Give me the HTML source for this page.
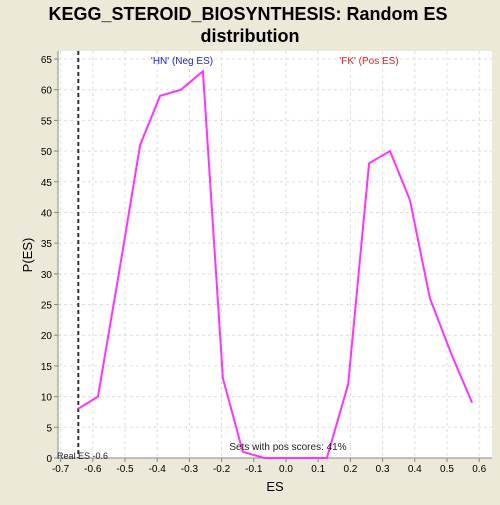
<!DOCTYPE html>
<html><head><meta charset="utf-8"><style>
body{margin:0;background:#ece9d8;font-family:"Liberation Sans",sans-serif;}
</style></head><body>
<svg id="c" width="500" height="500" xmlns="http://www.w3.org/2000/svg">
<rect width="500" height="500" fill="#ece9d8"/>
<text x="248" y="20" text-anchor="middle" font-size="18" font-weight="bold" fill="#000">KEGG_STEROID_BIOSYNTHESIS: Random ES</text>
<text x="250" y="42" text-anchor="middle" font-size="18" font-weight="bold" fill="#000">distribution</text>
<rect x="58" y="51" width="434" height="407" fill="#fff"/>
<g id="grid"></g><g id="axes"></g><g id="marks"></g>
<text x="182" y="64" text-anchor="middle" font-size="10" fill="#2222dd">'HN' (Neg ES)</text>
<text x="369" y="64" text-anchor="middle" font-size="10" fill="#dd2222">'FK' (Pos ES)</text>
<text x="288" y="450" text-anchor="middle" font-size="10" fill="#222">Sets with pos scores: 41%</text>
<text x="57" y="459" font-size="9" fill="#222">Real ES -0.6</text>
<text x="275" y="491" text-anchor="middle" font-size="13" fill="#000">ES</text>
<text x="32" y="255" text-anchor="middle" font-size="13" fill="#000" transform="rotate(-90 32 255)">P(ES)</text>
</svg>
<script>
const esValues=[-0.646,-0.584,-0.516,-0.453,-0.391,-0.326,-0.258,-0.196,-0.134,-0.068,-0.003,0.062,0.127,0.193,0.258,0.323,0.385,0.447,0.513,0.578];
const pValues=[8,10,31,51,59,60,63,13,1,0,0,0,0,12,48,50,42,26,17,9];
const xTicks=[-0.7,-0.6,-0.5,-0.4,-0.3,-0.2,-0.1,0.0,0.1,0.2,0.3,0.4,0.5,0.6];
const yTicks=[0,5,10,15,20,25,30,35,40,45,50,55,60,65];
const realES=[-0.645];
const NS="http://www.w3.org/2000/svg";
const X=v=>286+v*322;
const Y=v=>458-v*(399/65);
function mk(t,a,p){const e=document.createElementNS(NS,t);for(const k in a)e.setAttribute(k,a[k]);p.appendChild(e);return e;}
const grid=document.getElementById('grid'),axes=document.getElementById('axes'),marks=document.getElementById('marks');
xTicks.forEach(t=>{
 const g=mk('line',{x1:X(t),x2:X(t),y1:51,y2:458,stroke:'#ddd','stroke-dasharray':'3,3'},grid);
 
 
 const tk=mk('line',{x1:X(t),x2:X(t),y1:458,y2:462,stroke:'#888'},axes);
 
 
 const l=mk('text',{x:X(t),y:472,'text-anchor':'middle','font-size':10,fill:'#000'},axes);
 l.textContent=t.toFixed(1);
 
 
});
yTicks.forEach(t=>{
 const g=mk('line',{x1:58,x2:492,y1:Y(t),y2:Y(t),stroke:'#ddd','stroke-dasharray':'3,3'},grid);
 
 
 const tk=mk('line',{x1:54,x2:58,y1:Y(t),y2:Y(t),stroke:'#888'},axes);
 
 
 const l=mk('text',{x:52,y:Y(t)+4,'text-anchor':'end','font-size':10,fill:'#000'},axes);
 l.textContent=t;
 
 
});
const ax=mk('path',{d:'M58 51 V458 H492',fill:'none',stroke:'#888'},axes);


const rl=mk('line',{x1:X(realES[0]),x2:X(realES[0]),y1:51,y2:458,stroke:'#333','stroke-width':2,'stroke-dasharray':'4,3'},marks);


const pl=mk('polyline',{points:esValues.map((v,i)=>X(v)+','+Y(pValues[i])).join(' '),fill:'none',stroke:'#ff33ff','stroke-width':2},marks);


</script>
</body></html>
